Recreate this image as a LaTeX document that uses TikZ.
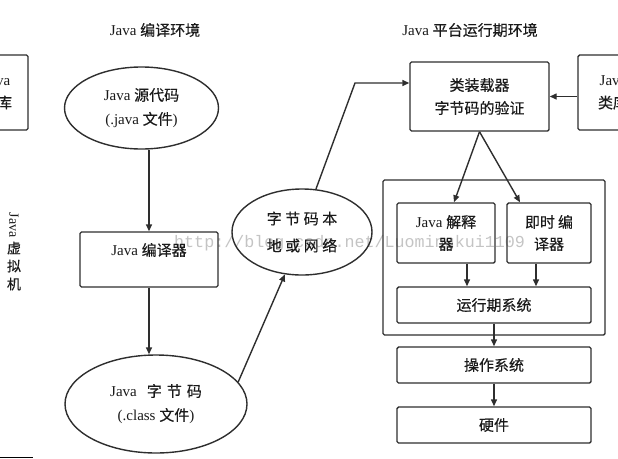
\documentclass[tikz,border=0pt]{standalone}
\usepackage{fontspec}
\setmainfont{Liberation Serif}
\newfontfamily\cjk[FakeBold=0.4]{Noto Sans CJK SC}
\newfontfamily\wmfont{Liberation Mono}
\usetikzlibrary{arrows.meta,shapes.geometric,calc}
\newcommand{\zh}[1]{{\cjk #1}}
\definecolor{ln}{HTML}{2E2E2E}
\definecolor{tx}{HTML}{1A1A1A}
\definecolor{wm}{HTML}{C4C4C4}
\tikzset{
  box/.style={draw=ln, line width=1.4pt, rounded corners=1.5pt, inner sep=0pt, align=center, text=tx,
    font=\fontsize{15}{23}\selectfont},
  oval/.style={draw=ln, line width=1.4pt, ellipse, inner sep=0pt, align=center, text=tx,
    font=\fontsize{15}{24}\selectfont},
  lbl/.style={inner sep=0pt, text=tx, align=center, font=\fontsize{15}{23}\selectfont},
  arr/.style={draw=ln, line width=1.4pt, -{Triangle[length=7pt,width=6pt]}},
}
\begin{document}
\begin{tikzpicture}[x=1pt,y=-1pt]
\useasboundingbox (0,0) rectangle (618,458);
\clip (0,0) rectangle (618,458);
% watermark
\node[anchor=west, inner sep=0pt, text=wm, font=\wmfont\fontsize{16.7}{18}\selectfont] (wmk) at (174,243) {http://blog.csdn.net/Luomingkui1109};
% titles
\node[lbl] (t1) at (155,30) {Java \zh{编译环境}};
\node[lbl] (t2) at (470,30) {Java \zh{平台运行期环境}};
% left library (cut off)
\node[box, minimum width=62pt, minimum height=75pt] (llib) at (-3,92.5) {Java\\\zh{类库}};
% right library (cut off)
\node[box, minimum width=70pt, minimum height=75pt] (rlib) at (613,92.5) {Java\\\zh{类库}};
% vertical label
\node[lbl, rotate=-90, font=\fontsize{14}{15}\selectfont] (vj) at (14,225) {Java};
\node[lbl, font=\fontsize{14}{15}\selectfont] (v1) at (14,248) {\zh{虚}};
\node[lbl, font=\fontsize{14}{15}\selectfont] (v2) at (14,266) {\zh{拟}};
\node[lbl, font=\fontsize{14}{15}\selectfont] (v3) at (14,284) {\zh{机}};
% compile side
\node[oval, minimum width=154pt, minimum height=82pt] (src) at (141.5,108) {Java \zh{源代码}\\(.java \zh{文件})};
\node[box, minimum width=138pt, minimum height=55pt] (comp) at (149,259.5) {};
\node[lbl] (compt) at (149,250) {Java \zh{编译器}};
\node[oval, minimum width=182pt, minimum height=98pt] (cls) at (156,404) {Java\hspace{10pt}\zh{字\kern5pt 节\kern5pt 码}\\(.class \zh{文件})};
\node[oval, minimum width=140pt, minimum height=86pt, font=\fontsize{15}{27}\selectfont] (net) at (302,232) {\zh{字\kern3.5pt 节\kern3.5pt 码\kern3.5pt 本}\\\zh{地\kern3.5pt 或\kern3.5pt 网\kern3.5pt 络}};
% runtime side
\node[box, minimum width=139pt, minimum height=69pt] (loader) at (479.5,96.5) {\zh{类装载器}\\\zh{字节码的验证}};
\node[box, minimum width=222pt, minimum height=155pt] (jvm) at (494,257.5) {};
\node[box, minimum width=98pt, minimum height=60pt, font=\fontsize{15}{22}\selectfont] (interp) at (446,233) {Java \zh{解释}\\\zh{器}};
\node[box, minimum width=84pt, minimum height=60pt, font=\fontsize{15}{22}\selectfont] (jit) at (549,233) {\zh{即时\kern3pt 编}\\\zh{译器}};
\node[box, minimum width=194pt, minimum height=36pt] (rt) at (494,305) {\zh{运行期系统}};
\node[box, minimum width=194pt, minimum height=36pt] (os) at (494,365) {\zh{操作系统}};
\node[box, minimum width=194pt, minimum height=36pt] (hw) at (494,425) {\zh{硬件}};
% connectors
\draw[arr] (src.south -| comp.north) -- (comp.north);
\draw[arr] (comp.south) -- (comp.south |- cls.north);
\draw[arr] (cls.15) -- (net.248);
\coordinate (bend) at (355,83);
\draw[arr] (net.72) -- (bend) -- (bend -| loader.west);
\draw[arr] (loader.east -| rlib.west) -- (loader.east);
\draw[arr] (loader.south) -- ($(interp.north)+(8,0)$);
\draw[arr] (loader.south) -- ($(jit.north)+(-29,0)$);
\draw[arr] ($(interp.south)+(21,0)$) -- ($(interp.south |- rt.north)+(21,0)$);
\draw[arr] ($(jit.south)+(-13,0)$) -- ($(jit.south |- rt.north)+(-13,0)$);
\draw[arr] (rt.south) -- (os.north);
\draw[arr] (os.south) -- (hw.north);
% small artifact line at bottom left
\coordinate (a1) at (0,457);
\coordinate (a2) at (33,457);
\draw[line width=1pt, black] (a1) -- (a2);
\end{tikzpicture}
\end{document}
